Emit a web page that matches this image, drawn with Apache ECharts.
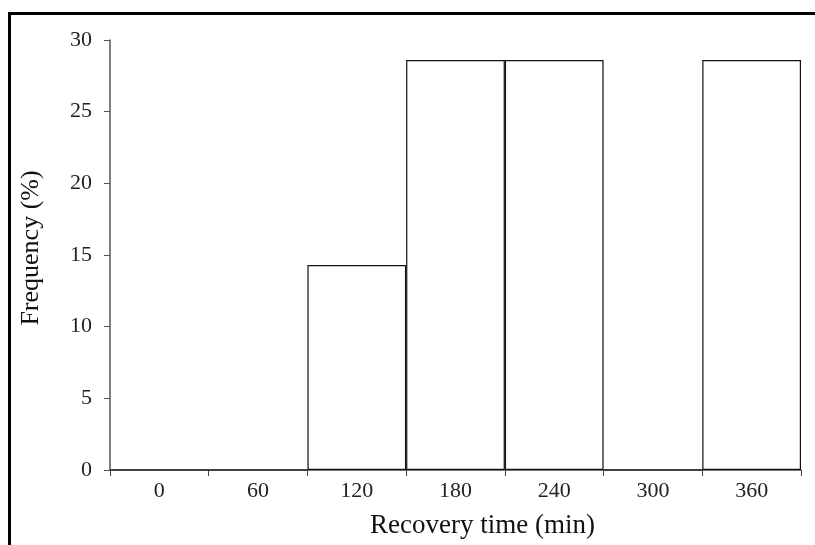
<!DOCTYPE html>
<html>
<head>
<meta charset="utf-8">
<script src="https://cdn.jsdelivr.net/npm/echarts@6/dist/echarts.min.js"></script>
<style>
  html, body { margin: 0; padding: 0; background: #fff; }
  #chart { width: 815px; height: 545px; }
</style>
</head>
<body>
<div id="chart"></div>
<script>
// 数据
var categories = ['0', '60', '120', '180', '240', '300', '360'];
var frequency = [0, 0, 14.3, 28.6, 28.6, 0, 28.6];
var yTicks = [0, 5, 10, 15, 20, 25, 30];

var serif = '"Liberation Serif", "DejaVu Serif", serif';

function renderHist() {
  var container = document.getElementById('chart');
  var myChart = echarts.init(container);
  var options = {
    backgroundColor: '#fff',
    animation: false,
    graphic: [{
      type: 'rect',
      shape: { x: 9.5, y: 13.5, width: 830, height: 560 },
      style: { fill: 'none', stroke: '#000', lineWidth: 3 }
    }],
    grid: {
      left: 110,
      right: 14,
      top: 40,
      bottom: 75
    },
    xAxis: {
      type: 'category',
      data: categories,
      boundaryGap: true,
      name: 'Recovery time (min)',
      nameLocation: 'middle',
      nameGap: 42,
      nameTextStyle: { fontFamily: serif, fontSize: 27, color: '#111', padding: [0, 0, 0, 54] },
      axisLine: { lineStyle: { color: '#444', width: 1.5 } },
      axisTick: { show: true, alignWithLabel: false, length: 6, lineStyle: { color: '#444' } },
      axisLabel: { fontFamily: serif, fontSize: 22, color: '#222', margin: 10 }
    },
    yAxis: {
      type: 'value',
      min: yTicks[0],
      max: yTicks[yTicks.length - 1],
      interval: 5,
      name: 'Frequency (%)',
      nameLocation: 'middle',
      nameGap: 66,
      nameTextStyle: { fontFamily: serif, fontSize: 26, color: '#111', padding: [0, 0, 0, 14] },
      splitLine: { show: false },
      axisLine: { show: true, lineStyle: { color: '#555', width: 1.5 } },
      axisTick: { show: true, length: 6, lineStyle: { color: '#555' } },
      axisLabel: { fontFamily: serif, fontSize: 22, color: '#222', margin: 18 }
    },
    series: [{
      type: 'bar',
      data: frequency,
      barCategoryGap: 0,
      itemStyle: {
        color: '#fff',
        borderColor: '#111',
        borderWidth: 1.2
      }
    }]
  };
  myChart.setOption(options, true);
}

renderHist();
</script>
</body>
</html>
